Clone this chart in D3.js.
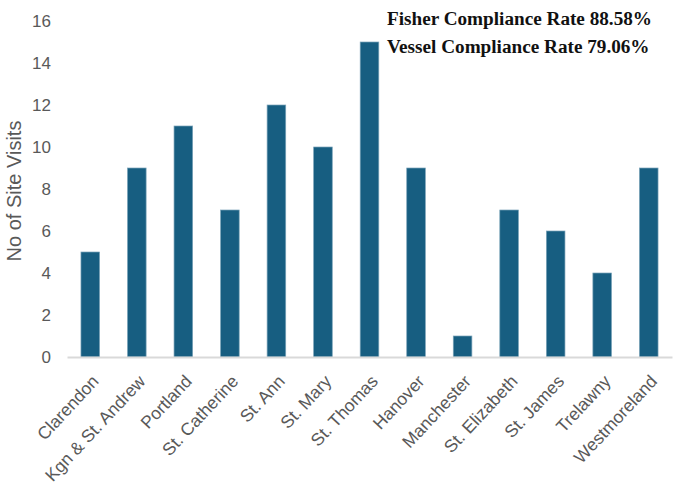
<!DOCTYPE html>
<html>
<head>
<meta charset="utf-8">
<script src="https://cdn.jsdelivr.net/npm/d3@7"></script>
<style>
  body { margin: 0; background: #fff; }
</style>
</head>
<body>
<script>
var parishes = ["Clarendon", "Kgn & St. Andrew", "Portland", "St. Catherine", "St. Ann", "St. Mary",
  "St. Thomas", "Hanover", "Manchester", "St. Elizabeth", "St. James", "Trelawny", "Westmoreland"]
var visits = [5, 9, 11, 7, 12, 10, 15, 9, 1, 7, 6, 4, 9]
var yTicks = [0, 2, 4, 6, 8, 10, 12, 14, 16]
var notes = ["Fisher Compliance Rate 88.58%", "Vessel Compliance Rate 79.06%"]

var width = 674, height = 485
var margin = { top: 21, right: 2, bottom: 128, left: 67 }

var svg = d3.select("body").append("svg")
  .attr("width", width)
  .attr("height", height)

var x = d3.scaleBand()
  .domain(parishes)
  .range([margin.left, width - margin.right])
  .paddingInner(0.6)
  .paddingOuter(0.3)

var y = d3.scaleLinear()
  .domain([0, 16])
  .range([height - margin.bottom, margin.top])

var tickFont = "'Liberation Sans', Arial, sans-serif"

// bars
svg.selectAll("rect.bar")
  .data(visits)
  .enter()
  .append("rect")
  .attr("class", "bar")
  .attr("x", function(d, i) { return x(parishes[i]) })
  .attr("y", function(d) { return y(d) })
  .attr("width", x.bandwidth())
  .attr("height", function(d) { return y(0) - y(d) })
  .style("fill", "#175e81")
  .attr("stroke", "#7aa3b8")
  .attr("stroke-width", 0.7)

// y axis, no line, just labels
var yAxis = svg.append("g")
  .attr("transform", "translate(" + (margin.left - 16) + ",0)")
  .call(d3.axisLeft(y).tickValues(yTicks).tickSize(0).tickPadding(0))
yAxis.select(".domain").remove()
yAxis.selectAll("text")
  .style("font-family", tickFont)
  .style("font-size", "17px")
  .style("fill", "#595959")

// x axis
var xAxis = svg.append("g")
  .attr("transform", "translate(0," + y(0) + ")")
  .call(d3.axisBottom(x).tickSize(0).tickPadding(0))
xAxis.select(".domain")
  .attr("stroke", "#d9d9d9")
  .attr("stroke-width", 2)
xAxis.selectAll("text")
  .style("font-family", tickFont)
  .style("font-size", "17.5px")
  .style("fill", "#595959")
  .style("text-anchor", "end")
  .attr("dy", "0.35em")
  .attr("transform", "translate(5,21) rotate(-47)")

// y axis title
svg.append("text")
  .attr("transform", "translate(21," + ((y(0) + y(16)) / 2 + 2) + ") rotate(-90)")
  .style("text-anchor", "middle")
  .style("font-family", "'Liberation Sans', Arial, sans-serif")
  .style("font-size", "20px")
  .style("fill", "#595959")
  .text("No of Site Visits")

// compliance notes
svg.selectAll("text.note")
  .data(notes)
  .enter()
  .append("text")
  .attr("class", "note")
  .attr("x", 387)
  .attr("y", function(d, i) { return 25 + i * 28 })
  .style("font-family", "'Liberation Serif', 'Times New Roman', serif")
  .style("font-weight", "bold")
  .style("font-size", "19.2px")
  .style("fill", "#111")
  .text(function(d) { return d })
</script>
</body>
</html>
